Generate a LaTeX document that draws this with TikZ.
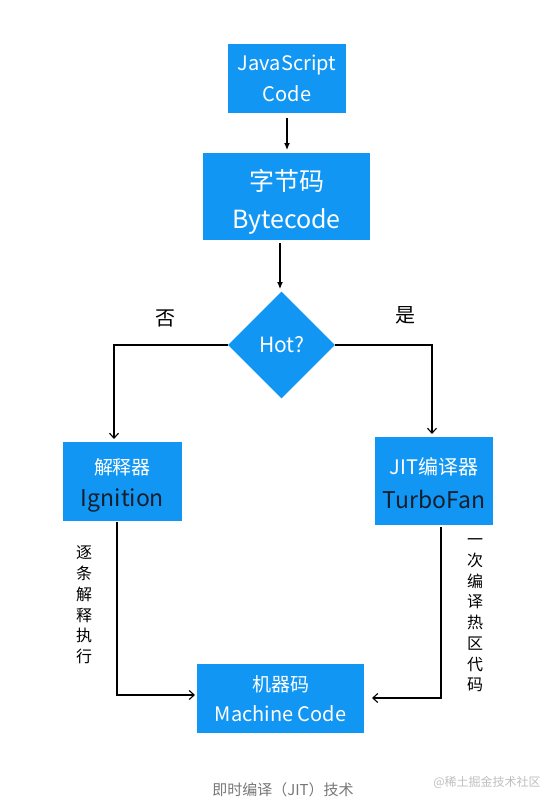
\documentclass[tikz,border=0pt]{standalone}
\usepackage{fontspec}
\setmainfont{Noto Sans CJK SC}
\usetikzlibrary{arrows.meta,shapes.geometric}
\definecolor{boxblue}{RGB}{18,150,243}
\definecolor{darktxt}{RGB}{20,30,45}
\definecolor{capgray}{RGB}{120,120,120}
\begin{document}
\begin{tikzpicture}[x=1pt,y=-1pt,
  bluebox/.style={fill=boxblue,draw=none,inner sep=0pt,align=center,text=white},
  boxtext/.style={inner sep=0pt,align=center,text=white},
  conn/.style={draw=black,line width=1.2pt},
  filledtip/.style={-{Latex[length=7pt,width=6pt]}},
  opentip/.style={-{Straight Barb[length=5pt,width=9pt,line width=1.1pt]}},
  vlabel/.style={align=center,font=\fontsize{16}{20.7}\selectfont,text=black,inner sep=0pt},
  lbl/.style={font=\fontsize{20}{22}\selectfont,text=black,inner sep=0pt}]
\useasboundingbox (0,0) rectangle (554,806);
\fill[white] (0,0) rectangle (554,806);

\node[bluebox,minimum width=118pt,minimum height=69pt,font=\fontsize{20}{31}\selectfont] (js) at (287,78.5)
  {JavaScript\\Code};
\node[bluebox,minimum width=167pt,minimum height=87pt] (bc) at (286.5,196.5) {};
\node[boxtext,font=\fontsize{25}{38}\selectfont] (bct) at (286.5,202) {字节码\\Bytecode};
\node[diamond,fill=boxblue,draw=none,minimum width=107pt,minimum height=107pt,inner sep=0pt,text=white,font=\fontsize{21}{22}\selectfont] (hot) at (281.5,345) {Hot?};
\node[bluebox,minimum width=119pt,minimum height=79pt] (ig) at (122.5,481.5) {};
\node[boxtext,font=\fontsize{19}{32}\selectfont] (igt) at (122.5,485)
  {解释器\\{\color{darktxt}\fontsize{23}{24}\selectfont Ignition}};
\node[bluebox,minimum width=118pt,minimum height=88pt] (tf) at (434,481) {};
\node[boxtext,font=\fontsize{20}{34}\selectfont] (tft) at (434,483)
  {JIT编译器\\{\color{darktxt}\fontsize{23}{24}\selectfont TurboFan}};
\node[bluebox,minimum width=167pt,minimum height=69pt,font=\fontsize{19}{30}\selectfont] (mc) at (280.5,698.5)
  {机器码\\{\fontsize{20}{22}\selectfont Machine Code}};

\coordinate (lt) at (114,345);
\coordinate (rt) at (432,345);
\coordinate (lb) at (117,695);
\coordinate (rb) at (441,698);

\draw[conn,filledtip] (287,118) -- (287,150);
\draw[conn,filledtip] (280,243) -- (280,289);
\draw[conn,opentip] (hot.west) -- (lt) -- (114,439);
\draw[conn,opentip] (hot.east) -- (rt) -- (432,434);
\draw[conn,opentip] (117,522) -- (lb) -- (195,695);
\draw[conn,opentip] (441,527) -- (rb) -- (372,698);

\node[lbl] (no) at (165,318) {否};
\node[lbl] (yes) at (405,315) {是};

\node[vlabel] (v1) at (84,605) {逐\\条\\解\\释\\执\\行};
\node[vlabel] (v2) at (475,615.5) {一\\次\\编\\译\\热\\区\\代\\码};

\node[text=capgray,font=\fontsize{15}{17}\selectfont,inner sep=0pt] (cap) at (283,790) {即时编译（JIT）技术};
\node[text=black!25,font=\fontsize{12}{14}\selectfont,inner sep=0pt] (wm) at (487,782) {@稀土掘金技术社区};
\end{tikzpicture}
\end{document}
